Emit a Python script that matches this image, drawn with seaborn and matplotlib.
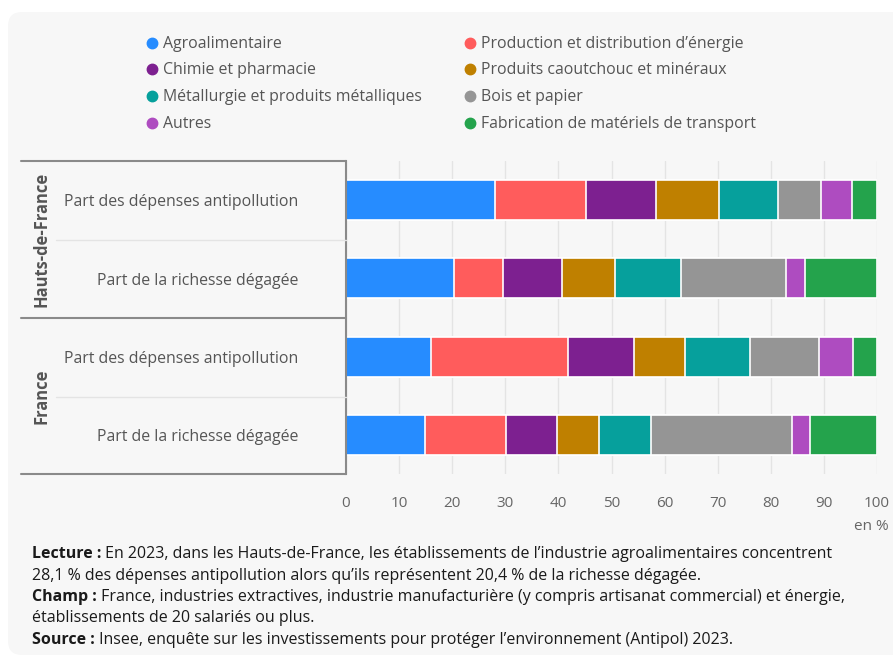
import pandas as pd
import matplotlib
matplotlib.use("Agg")
import matplotlib.pyplot as plt
import matplotlib.transforms as mtransforms
from matplotlib.patches import FancyBboxPatch
from matplotlib.lines import Line2D
import seaborn as sns

# categories in stacking order
categories = ["Agroalimentaire", "Production et distribution d’énergie", "Chimie et pharmacie",
              "Produits caoutchouc et minéraux", "Métallurgie et produits métalliques",
              "Bois et papier", "Autres", "Fabrication de matériels de transport"]
colors = ["#268cff", "#ff5c5c", "#7d2090", "#bf8000", "#06a09c", "#959595", "#ae4cc0", "#24a34c"]

groups = ["Hauts-de-France", "France"]
row_labels = ["Part des dépenses antipollution", "Part de la richesse dégagée"]

# shares in %, same order as categories
hdf_antipollution = [28.1, 17.1, 13.1, 11.9, 11.2, 8.1, 5.8, 4.7]
hdf_richesse = [20.4, 9.2, 11.0, 10.0, 12.5, 19.8, 3.5, 13.6]
fr_antipollution = [16.0, 25.8, 12.4, 9.7, 12.2, 12.9, 6.4, 4.6]
fr_richesse = [14.8, 15.4, 9.5, 7.9, 9.9, 26.5, 3.4, 12.6]

xticks = list(range(0, 101, 10))

footnotes = [
    ("Lecture :", " En 2023, dans les Hauts-de-France, les établissements de l’industrie agroalimentaires concentrent"),
    ("", "28,1 % des dépenses antipollution alors qu’ils représentent 20,4 % de la richesse dégagée."),
    ("Champ :", " France, industries extractives, industrie manufacturière (y compris artisanat commercial) et énergie,"),
    ("", "établissements de 20 salariés ou plus."),
    ("Source :", " Insee, enquête sur les investissements pour protéger l’environnement (Antipol) 2023."),
]

# long table with cumulative values for the stacked bars
rows = [(groups[0], row_labels[0], hdf_antipollution),
        (groups[0], row_labels[1], hdf_richesse),
        (groups[1], row_labels[0], fr_antipollution),
        (groups[1], row_labels[1], fr_richesse)]
records = []
row_keys = []
for g, lab, vals in rows:
    key = g + " | " + lab
    row_keys.append(key)
    cum = 0
    for cat, v in zip(categories, vals):
        cum += v
        records.append({"row": key, "label": lab, "category": cat, "value": v, "cum": cum})
df = pd.DataFrame(records)

sns.set_style("white")
plt.rcParams['font.family'] = ['Open Sans', 'DejaVu Sans']

W, H = 893, 658
fig = plt.figure(figsize=(W / 100, H / 100), dpi=100)
fig.patch.set_facecolor("white")

# light rounded panel, behind everything
panel = FancyBboxPatch((8, 3), 910, 643, boxstyle="round,pad=0,rounding_size=14",
                       transform=None, facecolor="#f7f7f7", edgecolor="none", zorder=-5)
fig.patches.append(panel)

ax = fig.add_axes([346 / W, 1 - 474 / H, 531 / W, 313 / H])
ax.set_facecolor("none")

# draw cumulative bars from the longest to the shortest
for cat, col in reversed(list(zip(categories, colors))):
    sub = df[df["category"] == cat]
    sns.barplot(data=sub, x="cum", y="row", order=row_keys, orient="h", color=col,
                saturation=1, width=0.51, edgecolor="white", linewidth=1.2,
                errorbar=None, ax=ax)

ax.set_xlim(0, 100)
ax.set_ylim(3.5, -0.5)
ax.set_xticks(xticks)
ax.set_yticks([])
ax.set_xlabel("")
ax.set_ylabel("")
ax.tick_params(axis="x", length=0, pad=16, labelsize=11, labelcolor="#666666")
ax.xaxis.grid(True, color="#e4e4e4", linewidth=1)
ax.set_axisbelow(True)
for s in ["top", "right", "bottom"]:
    ax.spines[s].set_visible(False)
ax.spines["left"].set_color("#8a8a8a")
ax.spines["left"].set_linewidth(1.5)

# left table lines
def hline(x0, x1, y, color, lw):
    fig.add_artist(Line2D([x0 / W, x1 / W], [1 - y / H, 1 - y / H], transform=fig.transFigure,
                          color=color, linewidth=lw))

hline(21, 346, 161, "#8a8a8a", 1.5)
hline(21, 346, 318, "#8a8a8a", 1.5)
hline(21, 346, 474, "#8a8a8a", 1.5)
hline(56, 346, 239.5, "#e4e4e4", 1)
hline(56, 346, 396.5, "#e4e4e4", 1)

# row labels and group labels
trans = mtransforms.blended_transform_factory(fig.transFigure, ax.transData)
for i, key in enumerate(row_keys):
    lab = key.split(" | ")[1]
    ax.text(298 / W, i + 0.03, lab, transform=trans, ha="right", va="center", fontsize=11.45,
            color="#555555", clip_on=False)
for j, g in enumerate(groups):
    ax.text(42 / W, 2 * j + 0.5, g, transform=trans, ha="center", va="center", rotation=90,
            fontsize=11.9, fontweight="bold", color="#555555", clip_on=False)

fig.text(889 / W, 1 - 527 / H, "en %", ha="right", va="center", fontsize=11, color="#666666")

# legend (two columns, row-wise reading order)
for i, (cat, col) in enumerate(zip(categories, colors)):
    cx = 152 if i % 2 == 0 else 470
    cy = [43.5, 70, 97, 124][i // 2]
    fig.add_artist(Line2D([cx / W], [1 - (cy - 1) / H], transform=fig.transFigure, marker="o",
                          markersize=7.5, color=col, linestyle="none"))
    fig.text((cx + 11) / W, 1 - cy / H, cat, ha="left", va="center", fontsize=11.4,
             color="#555555")

# footnotes with bold prefix
renderer = fig.canvas.get_renderer()
for k, (bold, rest) in enumerate(footnotes):
    yb = 1 - (553 + 21.5 * k + 5) / H
    x = 32 / W
    if bold:
        t = fig.text(x, yb, bold, ha="left", va="baseline", fontsize=11.5,
                     fontweight="bold", color="#1a1a1a")
        bb = t.get_window_extent(renderer)
        x = bb.x1 / W
    fig.text(x, yb, rest, ha="left", va="baseline", fontsize=11.5, color="#1a1a1a")

fig.savefig("out.png", dpi=100, facecolor="white")
